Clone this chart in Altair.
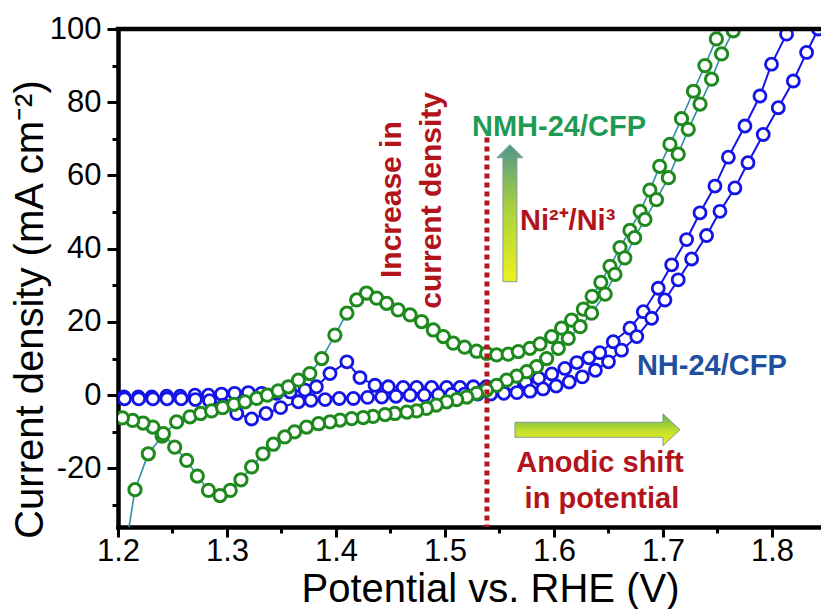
import altair as alt
import pandas as pd

# ---------------- data ----------------
# NMH-24/CFP : forward (anodic) scan
green_fwd_x = [1.207, 1.2156, 1.2278, 1.2405, 1.2538, 1.2660, 1.2758, 1.2859, 1.2960, 1.3064,
               1.3165, 1.3272, 1.3370, 1.3470, 1.3563, 1.3655, 1.3760, 1.3869, 1.3990, 1.4100,
               1.4190, 1.4280, 1.4373, 1.4465, 1.4570, 1.4680, 1.4786, 1.4893, 1.4985, 1.5076,
               1.5180, 1.5290, 1.5382, 1.5474, 1.5580, 1.5673, 1.5780, 1.5872, 1.5979, 1.6070,
               1.6162, 1.6270, 1.6350, 1.6430, 1.6514, 1.6606, 1.6697, 1.6790, 1.6880, 1.6970,
               1.7064, 1.7170, 1.7280, 1.7385, 1.7490, 1.7590]
green_fwd_y = [-42.0, -25.8, -16.0, -11.2, -7.3, -5.9, -5.0, -4.3, -3.4, -2.5,
               -1.8, -0.9, 0.0, 1.2, 2.3, 4.1, 5.9, 10.0, 16.4, 22.4,
               26.0, 27.9, 26.5, 25.1, 23.3, 21.9, 20.1, 17.8, 16.0, 14.2,
               13.1, 12.0, 11.4, 11.0, 11.2, 11.9, 12.8, 14.0, 16.0, 18.3,
               20.5, 23.5, 27.0, 30.8, 35.2, 40.3, 45.0, 50.2, 56.0, 62.5,
               68.5, 75.5, 83.0, 90.0, 97.3, 104.0]
# NMH-24/CFP : reverse (cathodic) scan
green_rev_x = [1.7750, 1.7645, 1.7538, 1.7446, 1.7340, 1.7232, 1.7140, 1.7050, 1.6940, 1.6835,
               1.6740, 1.6650, 1.6560, 1.6470, 1.6345, 1.6240, 1.6131, 1.6040, 1.5933, 1.5840,
               1.5750, 1.5658, 1.5566, 1.5474, 1.5380, 1.5290, 1.5200, 1.5107, 1.5015, 1.4920,
               1.4830, 1.4740, 1.4650, 1.4540, 1.4450, 1.4340, 1.4250, 1.4144, 1.4037, 1.3945,
               1.3840, 1.3730, 1.3620, 1.3530, 1.3425, 1.3330, 1.3226, 1.3128, 1.3030, 1.2936,
               1.2830, 1.2728, 1.2630, 1.2520, 1.2416, 1.2320, 1.2230, 1.2135, 1.2040]
green_rev_y = [106.0, 99.5, 93.2, 86.3, 79.5, 72.6, 65.8, 59.4, 53.4, 48.0,
               43.0, 37.5, 33.0, 27.6, 22.4, 18.7, 15.5, 12.8, 10.0, 7.8,
               6.4, 5.2, 4.1, 2.7, 1.4, 0.5, -0.5, -1.2, -1.8, -2.7,
               -3.6, -4.3, -4.6, -5.0, -5.3, -5.8, -6.1, -6.4, -6.8, -7.3,
               -7.8, -8.7, -10.0, -11.4, -13.4, -16.0, -19.6, -23.1, -26.0, -27.4,
               -26.0, -22.1, -17.8, -14.2, -10.5, -8.7, -7.6, -6.9, -6.2]

# NH-24/CFP : forward scan
blue_fwd_x = [1.2055, 1.2186, 1.2310, 1.2447, 1.2570, 1.2706, 1.2830, 1.2950, 1.3070, 1.3196,
              1.3318, 1.3456, 1.3580, 1.3716, 1.3820, 1.3945, 1.4100, 1.4220, 1.4358, 1.4480,
              1.4617, 1.4740, 1.4877, 1.5015, 1.5138, 1.5260, 1.5380, 1.5500, 1.5620, 1.5740,
              1.5860, 1.5980, 1.6100, 1.6210, 1.6320, 1.6420, 1.6544, 1.6697, 1.6820, 1.6957,
              1.7080, 1.7217, 1.7340, 1.7477, 1.7600, 1.7752, 1.7890, 1.7996, 1.8134, 1.8260]
blue_fwd_y = [-0.5, -0.5, -0.5, -0.3, -0.3, 0.0, 0.0, 0.3, 0.5, 0.7,
              0.5, 0.5, 0.9, 1.4, 2.3, 5.9, 9.1, 4.8, 2.7, 2.3,
              2.1, 2.1, 2.1, 2.1, 2.1, 2.3, 2.3, 2.5, 2.9, 3.6,
              4.6, 5.8, 7.3, 8.9, 10.2, 11.6, 14.6, 18.3, 22.8, 29.2,
              35.6, 42.5, 49.8, 57.1, 65.0, 73.5, 81.7, 90.4, 98.6, 106.0]
# NH-24/CFP : reverse scan
blue_rev_x = [1.8550, 1.8425, 1.8318, 1.8196, 1.8058, 1.7920, 1.7780, 1.7660, 1.7523, 1.7400,
              1.7263, 1.7140, 1.7018, 1.6896, 1.6760, 1.6620, 1.6500, 1.6380, 1.6260, 1.6140,
              1.6020, 1.5900, 1.5780, 1.5660, 1.5540, 1.5420, 1.5300, 1.5180, 1.5060, 1.4940,
              1.4810, 1.4680, 1.4550, 1.4420, 1.4290, 1.4160, 1.4030, 1.3900, 1.3770, 1.3655,
              1.3492, 1.3358, 1.3226, 1.3090, 1.2970, 1.2840, 1.2710, 1.2580, 1.2450, 1.2320,
              1.2190, 1.2060]
blue_rev_y = [107.0, 100.0, 93.6, 85.8, 78.5, 71.2, 63.5, 56.6, 50.2, 43.6,
              37.2, 31.5, 26.0, 21.0, 16.0, 12.3, 9.1, 6.8, 5.0, 3.6,
              2.5, 1.7, 1.1, 0.7, 0.5, 0.3, 0.3, 0.3, 0.2, 0.1,
              0.0, 0.0, -0.3, -0.5, -0.6, -0.9, -0.9, -1.2, -1.4, -1.8,
              -3.4, -5.0, -6.5, -5.0, -2.7, -1.5, -1.2, -1.0, -1.0, -1.0,
              -1.0, -1.0]

x_major_ticks = [1.2, 1.3, 1.4, 1.5, 1.6, 1.7, 1.8]
x_minor_ticks = [1.25, 1.35, 1.45, 1.55, 1.65, 1.75]
y_major_ticks = [-20, 0, 20, 40, 60, 80, 100]
y_minor_ticks = [-30, -10, 10, 30, 50, 70, 90]
x_domain = [1.2, 1.845]
y_domain = [-36, 100]

# annotation anchors (data units)
dotted_x, dotted_top = 1.5385, 70.4
labels_rot = ["Increase in", "current density"]
labels_rot_x = [1.4514, 1.4880]
labels_rot_y = [53.4, 53.2]

FONT = "Liberation Sans"
RED = "#b3141c"
GREEN_TXT = "#1f9a55"
BLUE_TXT = "#1f50a0"
GREEN = "#1e8a1e"
GREEN_LINE = "#2f8fa6"
BLUE = "#1414e6"


def series_df(xs, ys):
    return pd.DataFrame({"V": xs, "J": ys, "idx": list(range(len(xs)))})


green = series_df(green_fwd_x + green_rev_x, green_fwd_y + green_rev_y)
blue = series_df(blue_fwd_x + blue_rev_x, blue_fwd_y + blue_rev_y)

XS = alt.Scale(domain=x_domain, nice=False, zero=False)
YS = alt.Scale(domain=y_domain, nice=False, zero=False)

x_axis = alt.Axis(
    orient="bottom", values=x_major_ticks, format=".1f",
    tickSize=10, tickWidth=3, tickColor="black",
    domainColor="black", domainWidth=4.5, domainCap="square",
    labelFont=FONT, labelFontSize=31, labelColor="black", labelPadding=-1,
    labelOverlap=False, labelFlush=False, grid=False,
    title="Potential vs. RHE (V)", titleFont=FONT, titleFontSize=40,
    titleFontWeight="normal", titleColor="black",
    titleX=372, titleY=74, titleBaseline="alphabetic", titleAlign="center",
)
y_axis = alt.Axis(
    orient="left", values=y_major_ticks,
    labelExpr="toString(datum.value)",
    tickSize=11, tickWidth=3, tickColor="black",
    domainColor="black", domainWidth=4.5, domainCap="square",
    labelFont=FONT, labelFontSize=31, labelColor="black", labelPadding=6,
    labelOverlap=False, labelFlush=False, grid=False,
    title="Current density (mA cm⁻²)", titleFont=FONT, titleFontSize=40,
    titleFontWeight="normal", titleColor="black", titleAngle=270,
    titleX=-76, titleY=280, titleBaseline="alphabetic", titleAlign="center",
)
x_minor_axis = alt.Axis(
    orient="bottom", values=x_minor_ticks, tickSize=6, tickWidth=3, tickColor="black",
    labels=False, domain=False, grid=False, title=None)
y_minor_axis = alt.Axis(
    orient="left", values=y_minor_ticks, tickSize=6, tickWidth=3, tickColor="black",
    labels=False, domain=False, grid=False, title=None)


def X(field="V", axis=None):
    return alt.X(f"{field}:Q", scale=XS, axis=axis)


def Y(field="J", axis=None):
    return alt.Y(f"{field}:Q", scale=YS, axis=axis)


# invisible layer that only carries the minor tick axes
minor = alt.Chart(pd.DataFrame({"V": [x_domain[0]], "J": [0]})).mark_point(opacity=0).encode(
    x=X(axis=x_minor_axis), y=Y(axis=y_minor_axis))

blue_line = alt.Chart(blue).mark_line(color=BLUE, strokeWidth=2, clip=True).encode(
    x=X(axis=x_axis), y=Y(axis=y_axis), order="idx:Q")
blue_pts = alt.Chart(blue).mark_point(
    shape="circle", size=145, filled=True, fill="white", stroke=BLUE,
    strokeWidth=2.8, opacity=1, clip=True).encode(x=X(), y=Y())
green_line = alt.Chart(green).mark_line(color=GREEN_LINE, strokeWidth=1.6, clip=True).encode(
    x=X(), y=Y(), order="idx:Q")
green_pts = alt.Chart(green).mark_point(
    shape="circle", size=150, filled=True, fill="white", stroke=GREEN,
    strokeWidth=3, opacity=1, clip=True).encode(x=X(), y=Y())

# top frame line
frame = alt.Chart(pd.DataFrame({"V": [x_domain[0]], "V2": [x_domain[1]], "J": [y_domain[1]]})).mark_rule(
    color="black", strokeWidth=4.5, strokeCap="square").encode(x=X(), x2="V2:Q", y=Y())

# dotted vertical line
dotted = alt.Chart(pd.DataFrame({"V": [dotted_x], "J": [dotted_top], "J2": [y_domain[0]]})).mark_rule(
    color=RED, strokeWidth=5, strokeDash=[5, 4]).encode(x=X(), y=Y(), y2="J2:Q")

# rotated red text
rot_text = alt.Chart(pd.DataFrame({"V": labels_rot_x, "J": labels_rot_y, "t": labels_rot})).mark_text(
    font=FONT, fontSize=30, fontWeight="bold", color=RED, angle=270,
    align="center", baseline="middle").encode(x=X(), y=Y(), text="t:N")


def label(text, x, y, color, align="left", size=29):
    return alt.Chart(pd.DataFrame({"V": [x], "J": [y], "t": [text]})).mark_text(
        font=FONT, fontSize=size, fontWeight="bold", color=color,
        align=align, baseline="alphabetic").encode(x=X(), y=Y(), text="t:N")


t_nmh = label("NMH-24/CFP", 1.5248, 70.7, GREEN_TXT)
t_ni = label("Ni²⁺/Ni³", 1.5688, 45.2, RED)
t_nh = label("NH-24/CFP", 1.6761, 5.5, BLUE_TXT)
t_an1 = label("Anodic shift", 1.6422, -21.1, RED, align="center")
t_an2 = label("in potential", 1.6440, -30.7, RED, align="center")

# gradient arrows
up_path = "M -0.102 1 L 0.102 1 L 0.102 -0.81 L 0.19 -0.81 L 0 -1 L -0.19 -0.81 L -0.102 -0.81 Z"
right_path = "M -1 -0.091 L 0.794 -0.091 L 0.794 -0.194 L 1 0 L 0.794 0.194 L 0.794 0.091 L -1 0.091 Z"

up_grad = alt.Gradient(
    gradient="linear",
    stops=[alt.GradientStop(color="#4f968c", offset=0),
           alt.GradientStop(color="#a9d13c", offset=0.45),
           alt.GradientStop(color="#eef01e", offset=1)],
    x1=0, x2=0, y1=0, y2=1)
right_grad = alt.Gradient(
    gradient="linear",
    stops=[alt.GradientStop(color="#62b44a", offset=0),
           alt.GradientStop(color="#c6e02c", offset=0.55),
           alt.GradientStop(color="#f4f01a", offset=1)],
    x1=0, x2=0, y1=0, y2=1)

arrow_up = alt.Chart(pd.DataFrame({"V": [1.5596], "J": [49.7]})).mark_point(
    shape=up_path, size=137 * 137, filled=True, fill=up_grad, stroke="#7f9a98",
    strokeWidth=1, opacity=1).encode(x=X(), y=Y())
arrow_right = alt.Chart(pd.DataFrame({"V": [1.6399], "J": [-9.45]})).mark_point(
    shape=right_path, size=165 * 165, filled=True, fill=right_grad, stroke="#7f9a98",
    strokeWidth=1, opacity=1).encode(x=X(), y=Y())

chart = alt.layer(
    minor, blue_line, blue_pts, green_line, green_pts, frame, dotted,
    rot_text, t_nmh, t_ni, t_nh, t_an1, t_an2, arrow_up, arrow_right,
).resolve_axis(x="independent", y="independent").properties(
    width=703, height=498,
    autosize=alt.AutoSizeParams(type="none"),
    padding={"left": 118, "top": 29, "right": 0, "bottom": 82},
    background="white",
).configure_view(stroke=None)

chart.save("out.html", embed_options={"renderer": "svg", "actions": False})
